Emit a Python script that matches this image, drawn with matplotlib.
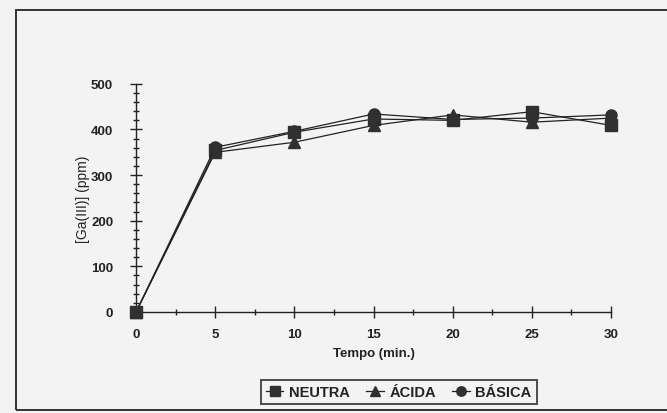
import matplotlib as mpl
mpl.use('Agg')
import matplotlib.pyplot as plt
from matplotlib.ticker import MultipleLocator
from matplotlib.patches import Rectangle

plt.rcParams['font.family'] = ['Liberation Sans', 'DejaVu Sans']

## Data
tempo = [0, 5, 10, 15, 20, 25, 30]
neutra = [0, 354, 394, 423, 420, 439, 409]
acida = [0, 350, 372, 409, 432, 416, 425]
basica = [0, 361, 396, 434, 422, 425, 432]

labels = ['NEUTRA', 'ÁCIDA', 'BÁSICA']
markers = ['s', '^', 'o']

## Figure
fig = plt.figure(figsize=(6.67, 4.14), dpi=100, facecolor='#f3f3f3')
ax = fig.add_axes([0.204, 0.244, 0.712, 0.551])
ax.set_facecolor('none')

# outer frame of the scanned chart
fig.patches.append(Rectangle((16 / 667, 3 / 414), 1.2, 400 / 414, transform=fig.transFigure,
                             fill=False, ec='#333333', lw=1.4))

for ys, m, lab in zip([neutra, acida, basica], markers, labels):
    ax.plot(tempo, ys, color='#222222', lw=0.9, marker=m, ms=8,
            mfc='#303030', mec='#303030', label=lab, clip_on=False, zorder=3)

ax.set_xlim(0, 30)
ax.set_ylim(0, 500)
ax.xaxis.set_major_locator(MultipleLocator(5))
ax.xaxis.set_minor_locator(MultipleLocator(2.5))
ax.yaxis.set_major_locator(MultipleLocator(100))
ax.yaxis.set_minor_locator(MultipleLocator(20))

for s in ['top', 'right']:
    ax.spines[s].set_visible(False)
for s in ['left', 'bottom']:
    ax.spines[s].set_color('#222222')
    ax.spines[s].set_linewidth(1.0)

ax.tick_params(which='major', direction='inout', length=9, width=1, color='#222222',
               labelsize=9.5)
ax.tick_params(which='minor', direction='inout', length=5, width=1, color='#222222')
ax.tick_params(axis='x', which='major', pad=7)
ax.tick_params(axis='y', which='major', pad=12)
for t in ax.get_xticklabels() + ax.get_yticklabels():
    t.set_fontweight('bold')
    t.set_color('#222222')

ax.set_xlabel('Tempo (min.)', fontsize=9.5, fontweight='bold', color='#222222', labelpad=5)
ax.set_ylabel('[Ga(III)] (ppm)', fontsize=10, color='#222222', labelpad=1)

leg = ax.legend(loc='upper center', bbox_to_anchor=(0.553, -0.265), ncol=3, frameon=True,
                fancybox=False, edgecolor='#222222', facecolor='none', handlelength=1.2,
                handletextpad=0.4, columnspacing=1.1, borderpad=0.35, markerscale=0.85,
                prop={'weight': 'bold', 'size': 10.5})
leg.get_frame().set_linewidth(1.4)
for t in leg.get_texts():
    t.set_color('#222222')

plt.savefig('out.png', dpi=100, facecolor=fig.get_facecolor())
